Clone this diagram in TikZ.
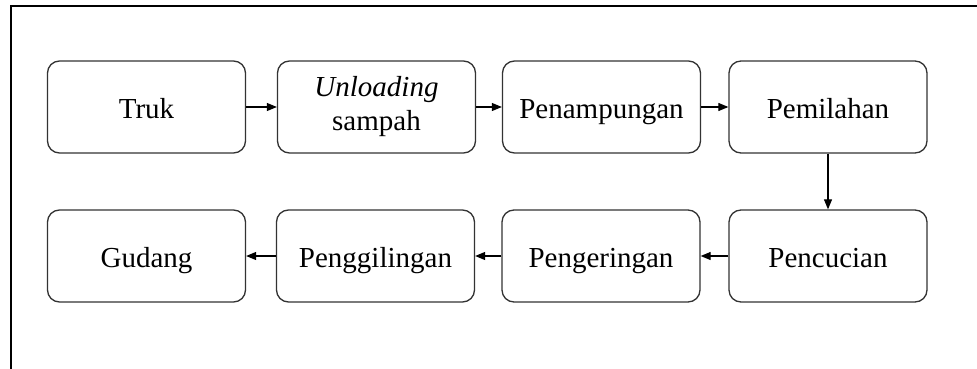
\documentclass[tikz,border=0pt]{standalone}
\usepackage{fontspec}
\setmainfont{Liberation Serif}
\newfontfamily\tms{Liberation Serif}
\usetikzlibrary{arrows.meta}
\begin{document}
\begin{tikzpicture}[x=1pt,y=-1pt,
  box/.style={draw=black!80,line width=1.3pt,rounded corners=12pt,minimum width=198pt,minimum height=92pt,align=center,font=\tms\fontsize{29}{34}\selectfont,inner sep=0pt,text height=22pt,text depth=0pt},
  conn/.style={line width=1.1pt,-{Triangle[length=10pt,width=8pt]}}]
\useasboundingbox (0,0) rectangle (977,369);
\draw[line width=2pt] (11,369) -- (11,6) -- (977,6);
\node[box] (truk) at (146.5,107) {Truk};
\node[box,text height=,text depth=] (unl) at (376.5,107) {\textit{Unloading}\\sampah};
\node[box] (pen) at (601.5,107) {Penampungan};
\node[box] (pem) at (828,107) {Pemilahan};
\node[box] (gud) at (146.5,256) {Gudang};
\node[box] (ggl) at (375.5,256) {Penggilingan};
\node[box] (ger) at (601,256) {Pengeringan};
\node[box] (cuc) at (828,256) {Pencucian};
\draw[conn] (truk) -- (unl);
\draw[conn] (unl) -- (pen);
\draw[conn] (pen) -- (pem);
\draw[conn] (pem) -- (cuc);
\draw[conn] (cuc) -- (ger);
\draw[conn] (ger) -- (ggl);
\draw[conn] (ggl) -- (gud);
\end{tikzpicture}
\end{document}
